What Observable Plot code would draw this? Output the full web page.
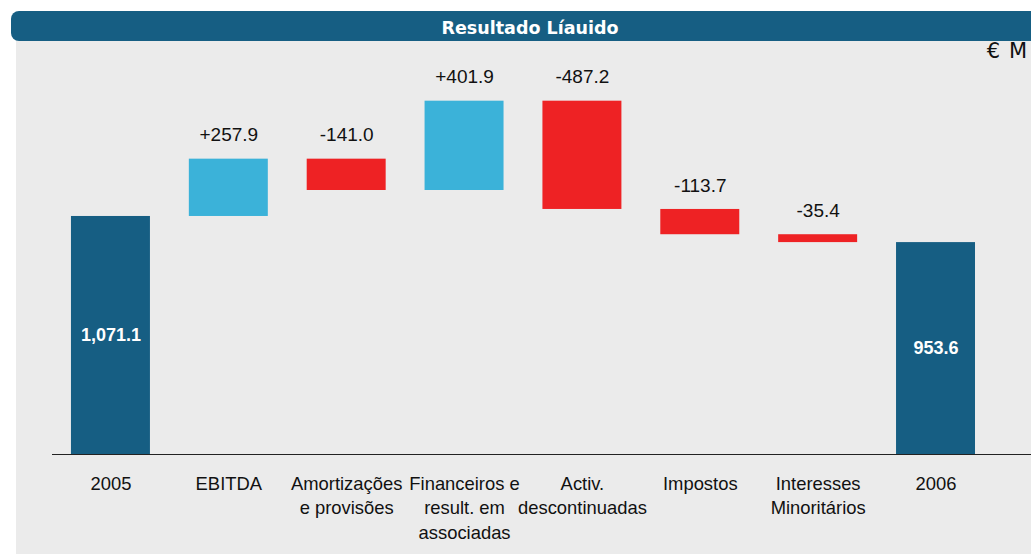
<!DOCTYPE html>
<html>
<head>
<meta charset="utf-8">
<script src="https://cdn.jsdelivr.net/npm/d3@7"></script>
<script src="https://cdn.jsdelivr.net/npm/@observablehq/plot@0.6"></script>
<style>
  html, body { margin: 0; padding: 0; background: #ffffff; width: 1031px; height: 555px; overflow: hidden; }
  #panel { position: absolute; left: 16px; top: 40px; width: 1015px; height: 514px; background: #ebebeb; }
  #title { position: absolute; left: 11px; top: 11px; width: 1038px; height: 30px; border-radius: 8px;
           background: #165e83; color: #ffffff; font: bold 17.5px "DejaVu Sans", sans-serif;
           text-align: center; line-height: 35px; }
  #unit { position: absolute; right: 3px; top: 39px; font: 21px "DejaVu Sans", sans-serif; color: #111;
          letter-spacing: 1px; }
  #chart { position: absolute; left: 0; top: 0; }
</style>
</head>
<body>
<div id="panel"></div>
<div id="title">Resultado Líauido</div>
<div id="unit">€ M</div>
<div id="chart"></div>
<script>
const categories = ["2005", "EBITDA", "Amortizações\ne provisões", "Financeiros e\nresult. em\nassociadas",
  "Activ.\ndescontinuadas", "Impostos", "Interesses\nMinoritários", "2006"];
const values = [1071.1, 257.9, -141.0, 401.9, -487.2, -113.7, -35.4, 953.6];
const kinds = ["total", "up", "down", "up", "down", "down", "down", "total"];
const labels = ["1,071.1", "+257.9", "-141.0", "+401.9", "-487.2", "-113.7", "-35.4", "953.6"];

const colors = { total: "#165e83", up: "#3bb2d9", down: "#ee2224" };

let cum = 0;
const rows = categories.map((c, i) => {
  let y1, y2;
  if (kinds[i] === "total") { y1 = 0; y2 = values[i]; cum = values[i]; }
  else { y1 = cum; y2 = cum + values[i]; cum = y2; }
  return { cat: c, y1, y2, top: Math.max(y1, y2), mid: (y1 + y2) / 2, kind: kinds[i], label: labels[i] };
});

const font = "'Liberation Sans', Arial, Helvetica, sans-serif";

const chart = Plot.plot({
  width: 1031,
  height: 555,
  marginLeft: 52,
  marginRight: 0,
  marginTop: 40,
  marginBottom: 101,
  style: { background: "transparent", fontFamily: font },
  x: { domain: categories, paddingInner: 0.33, paddingOuter: 0.318, align: 0.253, round: false, axis: null },
  y: { domain: [0, 1863], axis: null },
  marks: [
    Plot.barY(rows, { x: "cat", y1: "y1", y2: "y2", fill: d => colors[d.kind] }),
    Plot.ruleY([0], { stroke: "#222", strokeWidth: 1 }),
    Plot.text(rows.filter(d => d.kind !== "total"), {
      x: "cat", y: "top", text: "label", dy: -24, lineAnchor: "middle",
      fontSize: 19, fill: "#111"
    }),
    Plot.text(rows.filter(d => d.kind === "total"), {
      x: "cat", y: "mid", text: "label", lineAnchor: "middle",
      fontSize: 18, fontWeight: "bold", fill: "#ffffff"
    }),
    Plot.text(rows, {
      x: "cat", y: 0, text: "cat", dy: 18, lineAnchor: "top", lineHeight: 1.33,
      fontSize: 18.4, fill: "#111"
    })
  ]
});
document.getElementById("chart").appendChild(chart);
</script>
</body>
</html>
